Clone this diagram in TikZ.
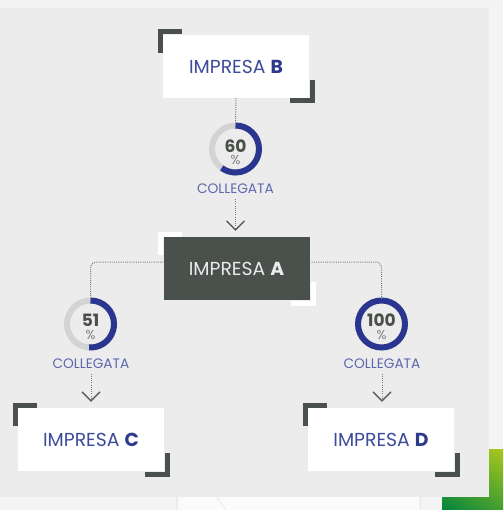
\documentclass[tikz,border=0pt]{standalone}
\usepackage{fontspec}
\setmainfont{Poppins}
\usetikzlibrary{arrows.meta,calc,shadings}
\definecolor{outerbg}{HTML}{F4F4F4}
\definecolor{panel}{HTML}{ECECEC}
\definecolor{darkbox}{HTML}{4A514C}
\definecolor{bluetxt}{HTML}{3D4B9B}
\definecolor{blueb}{HTML}{2E3A8C}
\definecolor{colltxt}{HTML}{5C67AE}
\definecolor{ringblue}{HTML}{2A3590}
\definecolor{ringgray}{HTML}{D3D3D3}
\definecolor{numtxt}{HTML}{4A4F4A}
\definecolor{pcttxt}{HTML}{7A7D7A}
\definecolor{dotline}{HTML}{7A7A7A}
\definecolor{chev}{HTML}{5A5F5A}
\definecolor{gyellow}{HTML}{A8C71C}
\definecolor{ggreen}{HTML}{00843D}
\newcommand{\pctlabel}[1]{{\fontsize{17}{12.5}\selectfont\bfseries\color{numtxt}#1}\\{\color{pcttxt}\%}}
\tikzset{
  company/.style={minimum width=146pt, minimum height=63pt, inner sep=0pt,
    font=\fontsize{18.8}{21}\selectfont},
  lightbox/.style={company, fill=white, text=bluetxt},
  darkcompany/.style={company, fill=darkbox, text=white!92!black},
  bracket/.style={line width=5pt, line cap=butt, line join=miter},
  ring/.style={circle, minimum size=53pt, inner sep=0pt},
  ringtrack/.style={line width=6pt, ringgray},
  ringarc/.style={line width=6pt, ringblue},
  pctlbl/.style={font=\fontsize{13}{12.5}\selectfont, align=center, inner sep=0pt},
  colllbl/.style={font=\fontsize{13.7}{15}\selectfont, text=colltxt, inner sep=1pt},
  dotconn/.style={dotline, line width=1pt, dash pattern=on 1pt off 1.2pt},
  arrconn/.style={dotconn, -{Straight Barb[length=9pt, width=18pt, line width=1.3pt, color=chev]}},
}
\begin{document}
\begin{tikzpicture}[x=1pt, y=-1pt]
\useasboundingbox (0,0) rectangle (503,510);
% backgrounds
\fill[outerbg] (0,0) rectangle (503,510);
\fill[panel] (0,8) rectangle (489,497);
\fill[white!60!outerbg] (179,497) rectangle (419,510);
\draw[black!9, line width=1pt] (176,497) -- (176,510);
\draw[black!9, line width=1pt] (420,497) -- (420,510);
\draw[black!7, line width=1pt] (217,497) -- (226,510);
\shade[lower left=ggreen, upper right=gyellow, upper left=gyellow!70!ggreen, lower right=ggreen!60!gyellow]
  (489,449) -- (503,449) -- (503,510) -- (442,510) -- (442,497) -- (489,497) -- cycle;

% brackets (drawn before boxes)
\coordinate (Bnw) at (163,35);  \coordinate (Bse) at (309,98);
\coordinate (Anw) at (163,237); \coordinate (Ase) at (310,300);
\coordinate (Cnw) at (18,408);  \coordinate (Cse) at (164,471);
\coordinate (Dnw) at (308,408); \coordinate (Dse) at (454,471);
\foreach \n/\c in {B/darkbox, C/darkbox, D/darkbox, A/white}{
  \draw[bracket, \c] ($(\n nw)+(-3,18)$) -- ($(\n nw)+(-3,-3)$) -- ($(\n nw)+(19,-3)$);
  \draw[bracket, \c] ($(\n se)+(3,-18)$) -- ($(\n se)+(3,3)$) -- ($(\n se)+(-19,3)$);
}

% boxes
\node[lightbox] (B) at (236,66.5) {IMPRESA \textcolor{blueb}{\bfseries B}};
\node[darkcompany] (A) at (236.5,268.5) {IMPRESA \textbf{A}};
\node[lightbox] (C) at (91,439.5) {IMPRESA \textcolor{blueb}{\bfseries C}};
\node[lightbox] (D) at (381,439.5) {IMPRESA \textcolor{blueb}{\bfseries D}};

% rings
\node[ring] (r60) at (235.5,149) {};
\node[ring] (r51) at (90.5,324) {};
\node[ring] (r100) at (381.5,324) {};
\draw[ringtrack] (r60.center) circle[radius=23.5];
\draw[ringarc] ($(r60.center)+(0,-23.5)$) arc[start angle=-90, end angle=126, radius=23.5];
\draw[ringtrack] (r51.center) circle[radius=23.5];
\draw[ringarc] ($(r51.center)+(0,-23.5)$) arc[start angle=-90, end angle=93.6, radius=23.5];
\draw[ringarc] (r100.center) circle[radius=23.5];

\node[pctlbl] (n60) at (235.5,152) {\pctlabel{60}};
\node[pctlbl] (n51) at (90.5,327) {\pctlabel{51}};
\node[pctlbl] (n100) at (381.5,326.5) {\pctlabel{100}};

\node[colllbl] (c60) at (235.5,189) {COLLEGATA};
\node[colllbl] (c51) at (91,363.5) {COLLEGATA};
\node[colllbl] (c100) at (382,363.5) {COLLEGATA};

% connectors
\draw[dotconn] (B.south) -- ([yshift=-4pt]r60.north);
\draw[arrconn, shorten <=4pt, shorten >=6pt] (c60.south) -- (c60.south |- A.north);
\draw[dotconn, rounded corners=6pt] (A.west |- 0,262) -- (r51.north |- 0,262) -- ([yshift=-2pt]r51.north);
\draw[dotconn, rounded corners=6pt] ([xshift=2pt]A.east |- 0,262) -- (r100.north |- 0,262) -- ([yshift=-2pt]r100.north);
\draw[arrconn, shorten <=4pt, shorten >=6pt] (c51.south) -- (c51.south |- C.north);
\draw[arrconn, shorten <=4pt, shorten >=6pt] (c100.south) -- (c100.south |- D.north);
\end{tikzpicture}
\end{document}
